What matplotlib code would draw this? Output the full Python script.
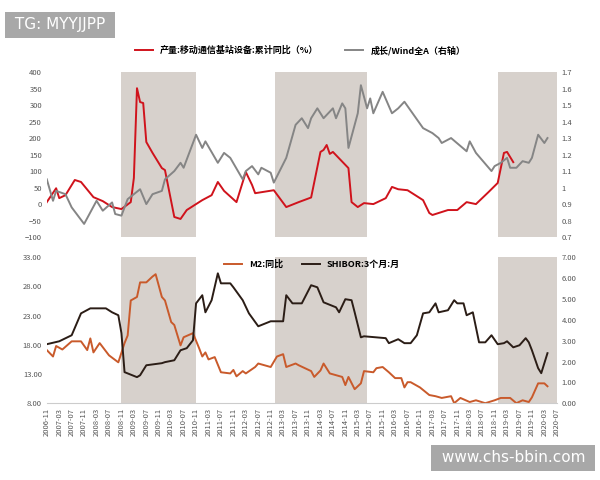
import matplotlib
matplotlib.use("Agg")
import matplotlib.pyplot as plt
import numpy as np

plt.rcParams['font.family'] = ['Noto Sans CJK SC', 'DejaVu Sans']

# month index 0 = 2006-11
red_m = [0,3,4,6,9,11,15,18,21,24,27,28,29,30,31,32,34,37,38,41,43,45,50,53,55,57,61,64,66,67,73,77,81,85,88,89,90,91,92,97,98,100,102,105,109,111,113,116,121,123,124,129,132,135,138,142,145,147,148,150]
red_v = [6,48,18,27,73,67,21,9,-9,-15,6,79,351,309,306,188,155,109,103,-39,-45,-18,12,27,67,40,6,97,58,33,42,-9,6,20,158,164,179,152,158,109,6,-9,3,0,18,52,45,42,12,-27,-33,-18,-18,6,0,36,64,155,158,127]

gray_m = [0,2,3,6,8,12,16,18,21,22,24,26,30,32,34,37,38,41,43,44,46,48,50,51,55,57,59,63,64,66,68,69,72,73,77,80,82,84,85,87,89,92,93,95,96,97,100,101,103,104,105,108,111,113,115,118,121,124,126,127,130,135,136,138,143,144,146,148,149,151,153,155,156,158,160,161]
gray_v = [1.05,0.92,0.98,0.96,0.88,0.78,0.92,0.86,0.91,0.84,0.83,0.93,0.99,0.90,0.96,0.98,1.05,1.10,1.15,1.12,1.22,1.32,1.24,1.28,1.15,1.21,1.18,1.05,1.10,1.13,1.08,1.12,1.09,1.03,1.18,1.38,1.42,1.36,1.42,1.48,1.42,1.48,1.42,1.51,1.48,1.24,1.45,1.62,1.48,1.54,1.45,1.58,1.45,1.48,1.52,1.44,1.36,1.33,1.30,1.27,1.30,1.22,1.28,1.21,1.10,1.13,1.15,1.18,1.12,1.12,1.16,1.15,1.18,1.32,1.27,1.30]

m2_m = [0,2,3,5,8,11,13,14,15,17,20,23,25,26,27,29,30,32,34,35,37,38,40,41,43,44,47,49,50,51,52,54,56,59,60,61,63,64,67,68,72,74,76,77,80,81,85,86,88,89,91,95,96,97,99,101,102,105,106,108,110,112,114,115,116,117,120,123,125,127,130,131,133,136,138,141,144,146,149,151,153,155,156,158,160,161]
m2_v = [17.1,16.0,17.8,17.2,18.6,18.6,17.1,19.1,16.7,18.3,16.2,15.0,18.3,19.6,25.6,26.2,28.7,28.7,29.7,30.1,26.2,25.6,21.9,21.4,17.9,19.3,20.0,17.4,16.0,16.7,15.5,15.9,13.3,13.1,13.7,12.6,13.5,13.1,14.2,14.8,14.2,16.0,16.4,14.2,14.8,14.5,13.5,12.5,13.6,14.8,13.1,12.5,11.1,12.5,10.4,11.4,13.5,13.3,14.0,14.2,13.3,12.3,12.3,10.7,11.6,11.6,10.7,9.4,9.2,8.9,9.2,8.0,8.9,8.2,8.5,8.0,8.5,8.9,8.9,8.0,8.5,8.2,9.0,11.4,11.4,10.9]

sh_m = [0,4,8,11,14,19,21,23,24,25,29,30,32,37,38,41,43,45,47,48,50,51,53,55,56,59,60,63,65,68,72,76,77,79,82,85,87,89,93,94,96,98,99,101,102,109,110,113,115,117,119,121,123,125,126,129,131,132,134,135,137,139,141,143,145,147,148,150,152,154,155,156,158,159,161]
sh_v = [2.83,2.97,3.26,4.31,4.55,4.55,4.36,4.22,3.36,1.49,1.25,1.34,1.82,1.92,1.97,2.06,2.54,2.64,3.02,4.79,5.18,4.36,4.94,6.23,5.75,5.75,5.56,4.94,4.31,3.69,3.93,3.93,5.18,4.79,4.79,5.66,5.56,4.84,4.60,4.36,4.99,4.94,4.36,3.16,3.21,3.12,2.88,3.07,2.88,2.88,3.26,4.31,4.36,4.79,4.36,4.46,4.94,4.79,4.79,4.22,4.36,2.92,2.92,3.26,2.83,2.88,2.97,2.68,2.78,3.12,2.92,2.54,1.68,1.44,2.40]

shade = [(24, 48), (73.5, 103), (145, 164)]

labels = []
y, mo = 2006, 11
for i in range(0, 165, 4):
    labels.append(f"{y}-{mo:02d}")
    mo += 4
    if mo > 12:
        mo -= 12
        y += 1
tick_pos = list(range(0, 165, 4))

fig = plt.figure(figsize=(6, 4.8), dpi=100)
SH = '#d7d1cc'
tc = '#555555'

def style(ax):
    for s in ax.spines.values():
        s.set_visible(False)
    ax.tick_params(length=0, labelsize=5.5, colors=tc)

# top panel
ax1 = fig.add_axes([0.078, 0.506, 0.85, 0.344])
ax1b = ax1.twinx()
for a, b in shade:
    ax1.axvspan(a, b, color=SH, lw=0, zorder=0)
ax1.plot(red_m, red_v, color='#d0131c', lw=1.4, label='产量:移动通信基站设备:累计同比（%）')
ax1b.plot(gray_m, gray_v, color='#858585', lw=1.4, label='成长/Wind全A（右轴）')
ax1.set_xlim(0, 164)
ax1.set_ylim(-100, 400)
ax1.set_yticks(range(-100, 401, 50))
ax1b.set_ylim(0.7, 1.7)
ax1b.set_yticks(np.arange(0.7, 1.71, 0.1))
ax1b.set_yticklabels([f"{v:g}" for v in np.round(np.arange(0.7, 1.71, 0.1), 1)])
ax1.set_xticks([])
style(ax1); style(ax1b)
h1, l1 = ax1.get_legend_handles_labels()
h2, l2 = ax1b.get_legend_handles_labels()
fig.legend(h1 + h2, l1 + l2, loc='center', bbox_to_anchor=(0.5, 0.895), ncol=2,
           frameon=False, fontsize=6.5, handlelength=2, columnspacing=3, prop={'weight': 'bold', 'size': 6.5})

# bottom panel
ax2 = fig.add_axes([0.078, 0.160, 0.85, 0.304])
ax2b = ax2.twinx()
for a, b in shade:
    ax2.axvspan(a, b, color=SH, lw=0, zorder=0)
ax2.plot(m2_m, m2_v, color='#c95a2b', lw=1.4, label='M2:同比')
ax2b.plot(sh_m, sh_v, color='#2b1d16', lw=1.4, label='SHIBOR:3个月:月')
ax2.set_xlim(0, 164)
ax2.set_ylim(8, 33)
ax2.set_yticks([8, 13, 18, 23, 28, 33])
ax2.set_yticklabels([f"{v:.2f}" for v in [8, 13, 18, 23, 28, 33]])
ax2b.set_ylim(0, 7)
ax2b.set_yticks(range(0, 8))
ax2b.set_yticklabels([f"{v:.2f}" for v in range(0, 8)])
ax2.set_xticks(tick_pos)
ax2.set_xticklabels(labels, rotation=90)
style(ax2); style(ax2b)
ax2.spines['bottom'].set_visible(True)
ax2.spines['bottom'].set_color('#cccccc')
h1, l1 = ax2.get_legend_handles_labels()
h2, l2 = ax2b.get_legend_handles_labels()
ax2.legend(h1 + h2, l1 + l2, loc='center', bbox_to_anchor=(0.52, 0.95), ncol=2,
           frameon=False, handlelength=2, columnspacing=2, prop={'weight': 'bold', 'size': 6.5})

fig.text(10/600, 1 - 25/480, ' TG: MYYJJPP ', color='white', fontsize=11, va='center',
         family='DejaVu Sans',
         bbox=dict(boxstyle='square,pad=0.35', fc='#a8a8a8', ec='none'))
fig.text(590/600, 1 - 458/480, ' www.chs-bbin.com ', color='white', fontsize=11, va='center', ha='right',
         family='DejaVu Sans',
         bbox=dict(boxstyle='square,pad=0.35', fc='#a8a8a8', ec='none'))

fig.savefig('out.png', dpi=100)
